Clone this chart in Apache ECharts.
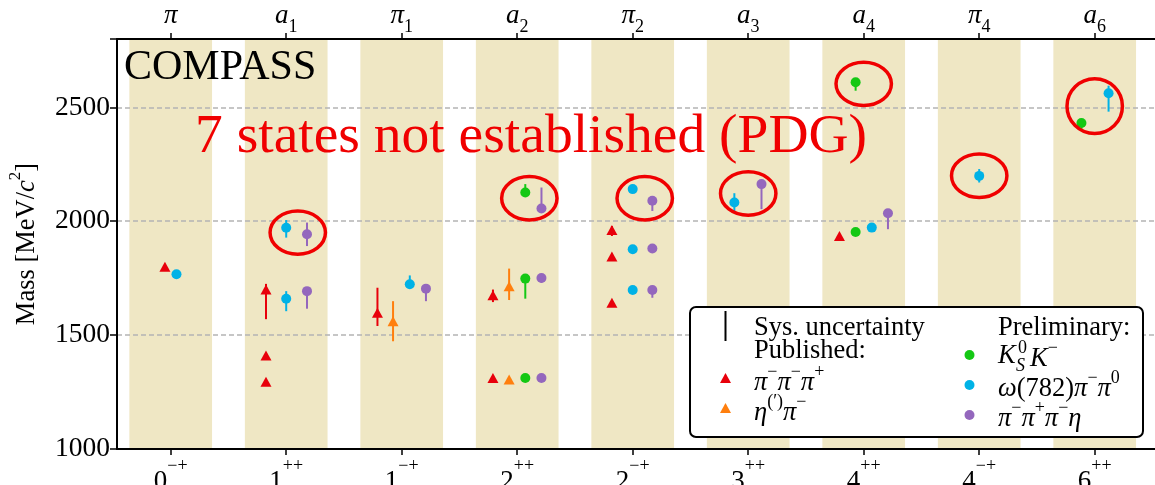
<!DOCTYPE html>
<html><head><meta charset="utf-8">
<script src="https://cdn.jsdelivr.net/npm/echarts@6/dist/echarts.min.js"></script>
<style>html,body{margin:0;padding:0;background:#fff}#c{width:1155px;height:485px}</style>
</head><body><div id="c"></div>
<script>
// ---------------- data ----------------
const jpcLabels = ['0-+','1++','1-+','2++','2-+','3++','4++','4-+','6++'];
const stateNames = [['π',''],['a','1'],['π','1'],['a','2'],['π','2'],['a','3'],['a','4'],['π','4'],['a','6']];
const yTicks = [1000, 1500, 2000, 2500];
const waveIndex = [0,1,2,3,4,5,6,7,8];
// each point: [x (wave index + offset), mass, sysLow, sysHigh]  (null = no sys. bar)
const pub3pi = [
  [-0.05, 1800, null, null],
  [0.825, 1700, 1570, 1725],
  [0.825, 1410, null, null],
  [0.825, 1295, null, null],
  [1.79, 1598, 1540, 1708],
  [2.79, 1312, null, null],
  [2.79, 1675, 1645, 1700],
  [3.82, 1961, 1935, 1979],
  [3.82, 1845, null, null],
  [3.82, 1642, null, null],
  [5.79, 1935, null, null]
];
const pubEtaPi = [
  [1.925, 1561, 1473, 1649],
  [2.93, 1715, 1654, 1792],
  [2.93, 1305, null, null]
];
const prelK0K = [
  [3.07, 2126, 2126, 2163],
  [3.07, 1748, 1660, 1748],
  [3.07, 1312, null, null],
  [5.93, 2610, 2573, 2610],
  [5.93, 1953, null, null],
  [7.885, 2431, 2405, 2431]
];
const prelOmegaPiPi = [
  [0.05, 1767, null, null],
  [1.0, 1971, 1928, 2005],
  [1.0, 1660, 1605, 1693],
  [2.07, 1723, 1710, 1762],
  [4.0, 2141, 2132, 2150],
  [4.0, 1877, null, null],
  [4.0, 1698, null, null],
  [4.88, 2082, 2045, 2123],
  [6.07, 1972, null, null],
  [7.0, 2199, 2170, 2229],
  [8.12, 2562, 2481, 2595]
];
const prelPiPiPiEta = [
  [1.18, 1943, 1891, 1994],
  [1.18, 1693, 1616, 1693],
  [2.21, 1704, 1649, 1704],
  [3.21, 2056, 2056, 2148],
  [3.21, 1751, 1730, 1751],
  [3.21, 1312, null, null],
  [4.17, 2090, 2045, 2090],
  [4.17, 1880, null, null],
  [4.17, 1698, 1664, 1698],
  [5.115, 2163, 2053, 2163],
  [6.21, 2035, 1965, 2035]
];
// circled (not established) states: [x centre, mass low, mass high]
const circled = [
  [1.10, 1847, 2053],
  [3.105, 1998, 2204],
  [4.104, 1998, 2204],
  [5.0, 2019, 2225],
  [6.0, 2500, 2706],
  [7.0, 2097, 2303],
  [8.0, 2377, 2633]
];

// ---------------- styling ----------------
const SERIF = '"Liberation Serif", "DejaVu Serif", serif';
const C = {red:'#e8000b', orange:'#ff7f0e', green:'#14c814', cyan:'#00b2e6', purple:'#9467bd', band:'#efe7c4', ring:'#f00000'};
const X_MIN = -0.465, X_MAX = 8.522, Y_MIN = 1000, Y_MAX = 2800;
const BAND_HALF = 0.358, RING_HALF = 0.255;
const LF = 26.5; // legend font size

const chart = echarts.init(document.getElementById('c'), null, {renderer:'canvas'});

function errSeries(data, color){
  return {
    type:'custom', xAxisIndex:0, yAxisIndex:0, z:3,
    data: data.filter(d => d[2] != null).map(d => [d[0], d[2], d[3]]),
    encode:{x:0, y:[1,2]},
    renderItem:(params, api) => {
      const a = api.coord([api.value(0), api.value(1)]);
      const b = api.coord([api.value(0), api.value(2)]);
      return {type:'line', shape:{x1:a[0], y1:a[1], x2:b[0], y2:b[1]}, style:{stroke:color, lineWidth:2}};
    }
  };
}
function markSeries(data, color, symbol){
  return {
    type:'scatter', xAxisIndex:0, yAxisIndex:0, z:4,
    data: data.map(d => [d[0], d[1]]),
    symbol: symbol, symbolSize: symbol === 'triangle' ? [11,10] : 10,
    itemStyle:{color:color, opacity:1}, silent:true
  };
}
function legRich(){
  return {
    m:{fontFamily:SERIF, fontSize:LF, fontStyle:'italic', color:'#000', lineHeight:34, verticalAlign:'bottom'},
    r:{fontFamily:SERIF, fontSize:LF, color:'#000', lineHeight:34, verticalAlign:'bottom'},
    s:{fontFamily:SERIF, fontSize:18, color:'#000', lineHeight:18, verticalAlign:'top'}
  };
}

const richAxis = {
  b:{fontFamily:SERIF, fontSize:27, color:'#000', lineHeight:38, verticalAlign:'bottom'},
  s:{fontFamily:SERIF, fontSize:18, color:'#000', lineHeight:16, verticalAlign:'top'}
};
const richTop = {
  i:{fontFamily:SERIF, fontSize:27, fontStyle:'italic', color:'#000', lineHeight:34, verticalAlign:'top'},
  u:{fontFamily:SERIF, fontSize:18, color:'#000', lineHeight:22, verticalAlign:'bottom'}
};

const option = {
  animation:false,
  backgroundColor:'#fff',
  grid:{left:117, right:0, top:39, bottom:36, containLabel:false, outerBoundsMode:'none'},
  xAxis:[
    {type:'value', position:'bottom', min:X_MIN, max:X_MAX,
     axisLine:{show:true, onZero:false, lineStyle:{color:'#000', width:2}},
     axisTick:{show:true, customValues:waveIndex, length:6, lineStyle:{color:'#000', width:1.5}},
     axisLabel:{show:true, customValues:waveIndex, margin:8,
       formatter:v => { const s = jpcLabels[Math.round(v)]; return '{b|' + s[0] + '}{s|' + s.slice(1).replace(/-/g,'−') + '}'; },
       rich:richAxis},
     splitLine:{show:false}},
    {type:'value', position:'top', min:X_MIN, max:X_MAX,
     axisLine:{show:true, onZero:false, lineStyle:{color:'#000', width:2}},
     axisTick:{show:true, customValues:waveIndex, length:6, lineStyle:{color:'#000', width:1.5}},
     axisLabel:{show:true, customValues:waveIndex, margin:3,
       formatter:v => { const n = stateNames[Math.round(v)]; return '{i|' + n[0] + '}' + (n[1] ? '{u|' + n[1] + '}' : ''); },
       rich:richTop},
     splitLine:{show:false}}
  ],
  yAxis:{type:'value', min:Y_MIN, max:Y_MAX, interval:500,
    axisLine:{show:true, onZero:false, lineStyle:{color:'#000', width:2}},
    axisTick:{show:true, length:7, lineStyle:{color:'#000', width:1.5}},
    axisLabel:{fontFamily:SERIF, fontSize:27.5, color:'#000', margin:7,
      formatter:v => yTicks.indexOf(v) >= 0 ? String(v) : ''},
    splitLine:{show:true, showMinLine:false, lineStyle:{color:'#b4b4b4', width:1.5, type:[5,3]}},
    name:'{r|Mass [MeV/}{i|c}{s|2}{r|]}', nameLocation:'middle', nameGap:76, nameRotate:90,
    nameTextStyle:{rich:{
      r:{fontFamily:SERIF, fontSize:26.5, color:'#000', lineHeight:34, verticalAlign:'bottom'},
      i:{fontFamily:SERIF, fontSize:26.5, fontStyle:'italic', color:'#000', lineHeight:34, verticalAlign:'bottom'},
      s:{fontFamily:SERIF, fontSize:17, color:'#000', lineHeight:15, verticalAlign:'top'}
    }}
  },
  series:[
    {type:'custom', z:-1, silent:true, data:waveIndex.map(i => [i]), encode:{x:0},
     renderItem:(params, api) => {
       const a = api.coord([api.value(0) - BAND_HALF, Y_MAX]);
       const b = api.coord([api.value(0) + BAND_HALF, Y_MIN]);
       return {type:'rect', shape:{x:a[0], y:a[1], width:b[0]-a[0], height:b[1]-a[1]}, style:{fill:C.band}};
     }},
    errSeries(pub3pi, C.red), errSeries(pubEtaPi, C.orange), errSeries(prelK0K, C.green),
    errSeries(prelOmegaPiPi, C.cyan), errSeries(prelPiPiPiEta, C.purple),
    markSeries(pub3pi, C.red, 'triangle'), markSeries(pubEtaPi, C.orange, 'triangle'),
    markSeries(prelK0K, C.green, 'circle'), markSeries(prelOmegaPiPi, C.cyan, 'circle'),
    markSeries(prelPiPiPiEta, C.purple, 'circle'),
    {type:'custom', z:5, silent:true, data:circled, encode:{x:0, y:[1,2]},
     renderItem:(params, api) => {
       const a = api.coord([api.value(0) - RING_HALF, api.value(2)]);
       const b = api.coord([api.value(0) + RING_HALF, api.value(1)]);
       const lw = 3.5;
       return {type:'ellipse', shape:{cx:(a[0]+b[0])/2, cy:(a[1]+b[1])/2, rx:(b[0]-a[0])/2 - lw/2, ry:(b[1]-a[1])/2 - lw/2},
               style:{fill:'none', stroke:C.ring, lineWidth:lw}};
     }}
  ],
  graphic:[
    {type:'text', z:50, style:{text:'COMPASS', x:124, y:68, fill:'#000', font:'42px ' + SERIF, verticalAlign:'middle'}},
    {type:'text', z:50, style:{text:'7 states not established (PDG)', x:195, y:137, fill:'#f00000', font:'55.5px ' + SERIF, verticalAlign:'middle'}},
    {type:'group', z:60, children:[
      {type:'rect', shape:{x:690, y:307, width:453, height:130, r:6}, style:{fill:'#fff', stroke:'#000', lineWidth:2}, z:60},
      {type:'line', shape:{x1:725.5, y1:311, x2:725.5, y2:341}, style:{stroke:'#000', lineWidth:2}, z:61},
      {type:'text', z:61, style:{text:'Sys. uncertainty', x:754, y:328, fill:'#000', font:LF + 'px ' + SERIF, verticalAlign:'middle'}},
      {type:'text', z:61, style:{text:'Published:', x:754, y:351, fill:'#000', font:LF + 'px ' + SERIF, verticalAlign:'middle'}},
      {type:'polygon', z:61, shape:{points:[[725.5,373],[731,383],[720,383]]}, style:{fill:C.red}},
      {type:'polygon', z:61, shape:{points:[[725.5,403],[731,413],[720,413]]}, style:{fill:C.orange}},
      {type:'text', z:61, style:{text:'{m|π}{s|−}{m|π}{s|−}{m|π}{s|+}', x:754, y:380, verticalAlign:'middle', rich:legRich()}},
      {type:'text', z:61, style:{text:'{m|η}{s|(′)}{m|π}{s|−}', x:754, y:410, verticalAlign:'middle', rich:legRich()}},
      {type:'text', z:61, style:{text:'Preliminary:', x:998, y:328, fill:'#000', font:LF + 'px ' + SERIF, verticalAlign:'middle'}},
      {type:'circle', z:61, shape:{cx:969.5, cy:355, r:5}, style:{fill:C.green}},
      {type:'circle', z:61, shape:{cx:969.5, cy:385, r:5}, style:{fill:C.cyan}},
      {type:'circle', z:61, shape:{cx:969.5, cy:415, r:5}, style:{fill:C.purple}},
      {type:'text', z:61, style:{text:'K', x:998, y:356, fill:'#000', font:'italic ' + LF + 'px ' + SERIF, verticalAlign:'middle'}},
      {type:'text', z:61, style:{text:'0', x:1018, y:348, fill:'#000', font:'18px ' + SERIF, verticalAlign:'middle'}},
      {type:'text', z:61, style:{text:'S', x:1016, y:366, fill:'#000', font:'italic 18px ' + SERIF, verticalAlign:'middle'}},
      {type:'text', z:61, style:{text:'{m|K}{s|−}', x:1030, y:356, verticalAlign:'middle', rich:legRich()}},
      {type:'text', z:61, style:{text:'{m|ω}{r|(782)}{m|π}{s|−}{m|π}{s|0}', x:998, y:386, verticalAlign:'middle', rich:legRich()}},
      {type:'text', z:61, style:{text:'{m|π}{s|−}{m|π}{s|+}{m|π}{s|−}{m|η}', x:998, y:416, verticalAlign:'middle', rich:legRich()}}
    ]}
  ]
};
chart.setOption(option);
</script>
</body></html>
